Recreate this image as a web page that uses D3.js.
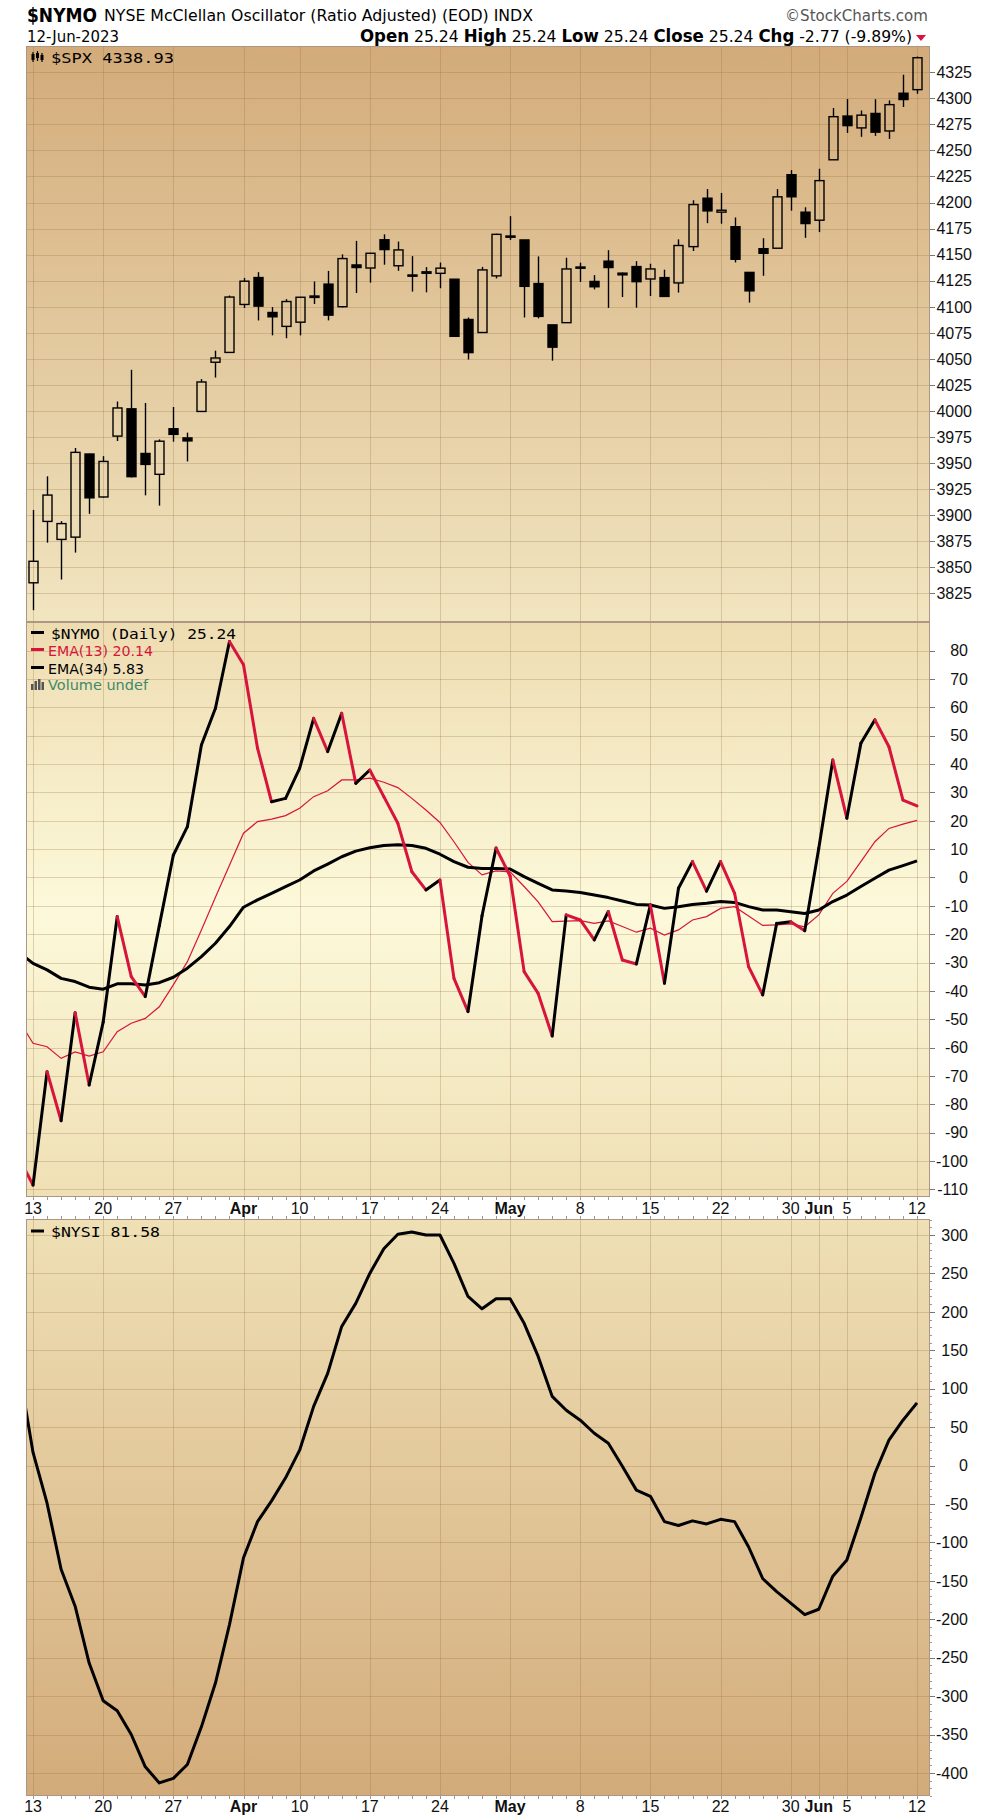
<!DOCTYPE html>
<html>
<head>
<meta charset="utf-8">
<title>$NYMO</title>
<script src="https://cdn.jsdelivr.net/npm/d3@7"></script>
<style>
  html, body { margin: 0; padding: 0; background: #fff; }
  svg { display: block; }
  .axis-label { font-family: "Liberation Sans", Arial, sans-serif; font-size: 16px; fill: #111; }
  .legend-mono { font-family: "DejaVu Sans Mono", monospace; font-size: 14px; }
  .legend-sans { font-family: "DejaVu Sans", Verdana, sans-serif; font-size: 14px; }
  .hdr { font-family: "Liberation Sans Narrow", "DejaVu Sans Condensed", "Liberation Sans", sans-serif; }
</style>
</head>
<body>
<svg id="chart" width="1000" height="1819"></svg>
<script>
// trading days; the first one only feeds the clipped segment at the left edge
const days = [
  "2023-03-10",
  "2023-03-13", "2023-03-14", "2023-03-15", "2023-03-16", "2023-03-17",
  "2023-03-20", "2023-03-21", "2023-03-22", "2023-03-23", "2023-03-24",
  "2023-03-27", "2023-03-28", "2023-03-29", "2023-03-30", "2023-03-31",
  "2023-04-03", "2023-04-04", "2023-04-05", "2023-04-06",
  "2023-04-10", "2023-04-11", "2023-04-12", "2023-04-13", "2023-04-14",
  "2023-04-17", "2023-04-18", "2023-04-19", "2023-04-20", "2023-04-21",
  "2023-04-24", "2023-04-25", "2023-04-26", "2023-04-27", "2023-04-28",
  "2023-05-01", "2023-05-02", "2023-05-03", "2023-05-04", "2023-05-05",
  "2023-05-08", "2023-05-09", "2023-05-10", "2023-05-11", "2023-05-12",
  "2023-05-15", "2023-05-16", "2023-05-17", "2023-05-18", "2023-05-19",
  "2023-05-22", "2023-05-23", "2023-05-24", "2023-05-25", "2023-05-26",
  "2023-05-30", "2023-05-31", "2023-06-01", "2023-06-02",
  "2023-06-05", "2023-06-06", "2023-06-07", "2023-06-08", "2023-06-09",
  "2023-06-12",
];

// $SPX candles, from 2023-03-13
const spxOpen = [
  3835.12, 3894.01, 3876.74, 3878.93, 3958.69, 3917.47, 3975.89, 4002.04, 3959.21, 3939.21,
  3982.93, 3974.13, 3999.53, 4046.74, 4056.18, 4102.2, 4128.03, 4094.5, 4081.15, 4085.2,
  4110.29, 4121.72, 4100.04, 4140.11, 4137.17, 4164.26, 4139.33, 4130.48, 4132.14, 4132.07,
  4126.43, 4087.78, 4075.29, 4129.63, 4166.79, 4164.1, 4122.25, 4082.61, 4084.73, 4136.98,
  4124.25, 4143.74, 4132.24, 4138.54, 4126.65, 4127.95, 4122.85, 4157.68, 4204.15, 4190.78,
  4176.8, 4132.96, 4155.71, 4156.16, 4226.71, 4190.74, 4183.03, 4241.01, 4282.99, 4271.61,
  4285.47, 4268.69, 4304.88, 4308.32,
];
const spxHigh = [
  3905.05, 3937.29, 3894.26, 3964.46, 3958.91, 3956.62, 4009.08, 4039.49, 4007.66, 3972.74,
  4003.83, 3979.2, 4030.59, 4057.85, 4110.75, 4127.66, 4133.13, 4099.69, 4107.32, 4109.5,
  4124.26, 4134.37, 4150.26, 4163.19, 4151.72, 4169.48, 4162.57, 4148.57, 4138.02, 4142.41,
  4126.43, 4089.67, 4138.24, 4170.06, 4186.92, 4164.1, 4148.3, 4082.61, 4147.02, 4142.3,
  4130.35, 4154.28, 4132.8, 4143.74, 4141.25, 4135.54, 4164.67, 4202.2, 4212.91, 4209.22,
  4185.68, 4132.96, 4165.74, 4212.87, 4231.1, 4195.44, 4232.43, 4290.67, 4299.28, 4288.33,
  4299.19, 4298.01, 4322.62, 4340.13,
];
const spxLow = [
  3808.86, 3873.63, 3838.24, 3864.11, 3901.27, 3916.89, 3971.19, 3936.17, 3919.05, 3909.16,
  3970.49, 3951.53, 3999.53, 4032.1, 4056.18, 4098.79, 4086.87, 4072.56, 4069.84, 4072.55,
  4102.61, 4086.94, 4099.4, 4113.2, 4123.18, 4140.36, 4134.49, 4114.57, 4113.86, 4117.77,
  4071.38, 4049.35, 4075.29, 4127.18, 4164.12, 4089.72, 4088.86, 4048.28, 4084.73, 4123.81,
  4116.65, 4098.92, 4109.29, 4099.12, 4110.27, 4109.86, 4113.62, 4153.5, 4180.2, 4179.68,
  4142.54, 4103.98, 4129.73, 4156.16, 4192.18, 4166.15, 4171.64, 4241.01, 4266.82, 4263.09,
  4263.96, 4261.07, 4291.7, 4304.37,
];
const spxClose = [
  3855.76, 3919.29, 3891.93, 3960.28, 3916.64, 3951.57, 4002.87, 3936.97, 3948.72, 3970.99,
  3977.53, 3971.27, 4027.81, 4050.83, 4109.31, 4124.51, 4100.6, 4090.38, 4105.02, 4109.11,
  4108.94, 4091.95, 4146.22, 4137.64, 4151.32, 4154.87, 4154.52, 4129.79, 4133.52, 4137.04,
  4071.63, 4055.99, 4135.35, 4169.48, 4167.87, 4119.58, 4090.75, 4061.22, 4136.25, 4138.12,
  4119.17, 4137.64, 4130.62, 4124.08, 4136.28, 4109.9, 4158.77, 4198.05, 4191.98, 4192.63,
  4145.58, 4115.24, 4151.28, 4205.45, 4205.52, 4179.83, 4221.02, 4282.37, 4273.79, 4283.85,
  4267.52, 4293.93, 4298.86, 4338.93,
];

// $NYMO panel, from 2023-03-10
const nymo = [
  -99, -108.5, -68.5, -85.8, -47.7, -73.2, -51, -13.8, -35, -42,
  -17, 7.9, 17.9, 46.7, 59.7, 83.2, 75, 45.6, 26.7, 27.9,
  38.5, 56.1, 44.4, 57.9, 33.2, 37.9, 28.5, 19.1, 2.0, -4.4,
  -0.9, -35.6, -47.3, -13.5, 10.4, 0.5, -33.2, -40.9, -55.9, -13.2,
  -15, -22, -12, -29.1, -30.5, -9.7, -37.3, -3.8, 5.6, -4.8,
  5.6, -5.6, -31.5, -41.4, -16.2, -15.6, -18.8, 10.3, 41.4, 20.9,
  47.3, 55.6, 46.1, 27.3, 25.24,
];
const ema13 = [
  -50.5, -58.5, -59.7, -63.8, -61.5, -63, -61.5, -54.4, -51.4, -49.7,
  -45.6, -37.9, -29.7, -18.5, -7.0, 4.3, 15.6, 19.7, 20.6, 21.8,
  24.4, 28.5, 30.6, 34.4, 34.4, 35.0, 33.6, 31.7, 27.9, 23.8,
  19.4, 12.6, 5.3, 0.9, 2.3, 2.0, -3.2, -8.6, -15.6, -15.4,
  -15.2, -16.2, -15.3, -17.3, -19.3, -17.9, -20.3, -18.5, -15.0, -13.8,
  -10.9, -10.3, -13.6, -16.9, -16.7, -16.4, -17.4, -13.2, -5.6, -1.4,
  5.6, 12.6, 17.3, 18.8, 20.14,
];
const ema34 = [
  -26.5, -30.3, -32.6, -35.6, -36.7, -38.7, -39.4, -37.5, -37.5, -37.9,
  -37.1, -35.2, -32, -27.9, -23.2, -17.3, -10.5, -7.9, -5.6, -3.2,
  -0.9, 2.3, 4.7, 7.3, 9.3, 10.5, 11.3, 11.5, 11.3, 10.3,
  8.2, 5.6, 3.6, 3.2, 3.2, 3.0, 0.3, -2.1, -4.4, -4.8,
  -5.3, -6.2, -7.1, -8.3, -9.5, -9.7, -10.9, -10.3, -9.5, -9.1,
  -8.5, -8.8, -10.3, -11.5, -11.5, -12.1, -12.7, -11.5, -8.5, -6.2,
  -3.2, -0.3, 2.6, 4.2, 5.83,
];

// $NYSI panel, from 2023-03-10
const nysi = [
  126, 17, -49, -135, -183, -257, -306, -319, -350, -392,
  -413, -407, -389, -340, -283, -207, -120, -73, -46, -16,
  20, 77, 120, 181, 211, 250, 282, 301, 304, 300,
  300, 263, 220, 204, 217, 217, 185, 142, 90, 72,
  59, 42, 29, -1, -32, -40, -73, -78, -72, -76,
  -70, -73, -106, -147, -164, -179, -194, -187, -144, -123,
  -68, -10, 33, 59, 81.58,
];

const tickDays = [
  "2023-03-13", "2023-03-20", "2023-03-27", "2023-04-03", "2023-04-10",
  "2023-04-17", "2023-04-24", "2023-05-01", "2023-05-08", "2023-05-15",
  "2023-05-22", "2023-05-30", "2023-06-01", "2023-06-05", "2023-06-12",
];
const tickLabels = ["13", "20", "27", "Apr", "10", "17", "24", "May", "8", "15", "22", "30", "Jun", "5", "12"];
const spxTicks = d3.range(3825, 4326, 25);
const nymoTicks = d3.range(-110, 81, 10);
const nysiTicks = d3.range(-400, 301, 50);

const red = "#d7143c";
const gridColor = "rgba(150,110,60,0.28)";
const borderColor = "#ad9684";

const plotLeft = 26;
const plotRight = 930;

const x = d3.scalePoint().domain(days).range([plotLeft - 7, plotRight - 13]);
const y1 = d3.scaleLinear().domain([3797.5, 4350.2]).range([622, 46]);
const y2 = d3.scaleLinear().domain([-112.7, 90.1]).range([1197, 622]);
const y3 = d3.scaleLinear().domain([-430, 320.8]).range([1796, 1219]);

const svg = d3.select("#chart");
const defs = svg.append("defs");

function gradient(id, stops) {
  const g = defs.append("linearGradient").attr("id", id)
    .attr("x1", 0).attr("y1", 0).attr("x2", 0).attr("y2", 1);
  stops.forEach(([o, c]) => g.append("stop").attr("offset", o).attr("stop-color", c));
}
gradient("bg-spx", [[0, "#d3ab7a"], [1, "#f1e5c0"]]);
gradient("bg-nymo", [[0, "#eedcb1"], [0.5, "#fcf9da"], [1, "#efdfb4"]]);
gradient("bg-nysi", [[0, "#efe0b6"], [1, "#d3ab7a"]]);

/**
 * Panels
 */
function panel(id, yScale, ticks, labelRight, minorStep) {
  const [bottom, top] = yScale.range();
  const g = svg.append("g").attr("class", `panel panel-${id}`);

  g.append("rect")
    .attr("x", plotLeft).attr("y", top)
    .attr("width", plotRight - plotLeft).attr("height", bottom - top)
    .attr("fill", `url(#bg-${id})`);

  defs.append("clipPath").attr("id", `clip-${id}`)
    .append("rect")
    .attr("x", plotLeft).attr("y", top)
    .attr("width", plotRight - plotLeft).attr("height", bottom - top);

  g.append("g").selectAll("line").data(ticks).join("line")
    .attr("x1", plotLeft).attr("x2", plotRight)
    .attr("y1", (d) => Math.round(yScale(d)) + 0.5)
    .attr("y2", (d) => Math.round(yScale(d)) + 0.5)
    .attr("stroke", gridColor);

  g.append("g").selectAll("line").data(tickDays).join("line")
    .attr("x1", (d) => Math.round(x(d)) + 0.5)
    .attr("x2", (d) => Math.round(x(d)) + 0.5)
    .attr("y1", top).attr("y2", bottom)
    .attr("stroke", gridColor);

  if (minorStep) {
    const minor = d3.range(Math.ceil(yScale.domain()[0] / minorStep) * minorStep, yScale.domain()[1], minorStep);
    g.append("g").selectAll("line").data(minor).join("line")
      .attr("x1", plotRight).attr("x2", plotRight + 2)
      .attr("y1", (d) => Math.round(yScale(d)) + 0.5)
      .attr("y2", (d) => Math.round(yScale(d)) + 0.5)
      .attr("stroke", "#999");
  }

  g.append("g").selectAll("line").data(ticks).join("line")
    .attr("x1", plotRight).attr("x2", plotRight + 5)
    .attr("y1", (d) => Math.round(yScale(d)) + 0.5)
    .attr("y2", (d) => Math.round(yScale(d)) + 0.5)
    .attr("stroke", "#777");

  g.append("g").selectAll("text").data(ticks).join("text")
    .attr("class", "axis-label")
    .attr("x", labelRight)
    .attr("y", (d) => yScale(d))
    .attr("dy", "0.36em")
    .attr("text-anchor", "end")
    .text((d) => d);

  const marks = g.append("g").attr("clip-path", `url(#clip-${id})`);

  g.append("rect")
    .attr("x", plotLeft + 0.5).attr("y", top + 0.5)
    .attr("width", plotRight - plotLeft - 1).attr("height", bottom - top - 1)
    .attr("fill", "none").attr("stroke", borderColor);

  return marks;
}

const spxG = panel("spx", y1, spxTicks, 972);
const nymoG = panel("nymo", y2, nymoTicks, 968);
const nysiG = panel("nysi", y3, nysiTicks, 968, 10);

/**
 * Candles
 */
const candles = spxOpen.map((o, i) => ({
  day: days[i + 1], o, h: spxHigh[i], l: spxLow[i], c: spxClose[i],
}));
const candleG = spxG.selectAll(".candle").data(candles).join("g")
  .attr("class", "candle")
  .attr("transform", (d) => `translate(${Math.round(x(d.day)) + 0.5},0)`);
candleG.append("line")
  .attr("y1", (d) => y1(d.h)).attr("y2", (d) => y1(Math.max(d.o, d.c)))
  .attr("stroke", "#000").attr("stroke-width", 1.4);
candleG.append("line")
  .attr("y1", (d) => y1(Math.min(d.o, d.c))).attr("y2", (d) => y1(d.l))
  .attr("stroke", "#000").attr("stroke-width", 1.4);
candleG.append("rect")
  .attr("x", -4.5).attr("width", 9)
  .attr("y", (d) => y1(Math.max(d.o, d.c)))
  .attr("height", (d) => Math.max(1.2, Math.abs(y1(d.o) - y1(d.c))))
  .attr("fill", (d) => (d.c > d.o ? "none" : "#000"))
  .attr("stroke", "#000").attr("stroke-width", 1.4);

/**
 * NYMO + EMAs
 */
const line2 = d3.line().x((d, i) => x(days[i])).y((d) => y2(d));
nymoG.append("path").attr("d", line2(ema13))
  .attr("fill", "none").attr("stroke", red).attr("stroke-width", 1.2);
nymoG.append("path").attr("d", line2(ema34))
  .attr("fill", "none").attr("stroke", "#000").attr("stroke-width", 3)
  .attr("stroke-linejoin", "round");
nymoG.append("g").selectAll("line").data(d3.pairs(d3.range(nymo.length))).join("line")
  .attr("x1", ([a]) => x(days[a])).attr("y1", ([a]) => y2(nymo[a]))
  .attr("x2", ([, b]) => x(days[b])).attr("y2", ([, b]) => y2(nymo[b]))
  .attr("stroke", ([a, b]) => (nymo[b] >= nymo[a] ? "#000" : red))
  .attr("stroke-width", 3)
  .attr("stroke-linecap", "round");

/**
 * NYSI
 */
const line3 = d3.line().x((d, i) => x(days[i])).y((d) => y3(d));
nysiG.append("path").attr("d", line3(nysi))
  .attr("fill", "none").attr("stroke", "#000").attr("stroke-width", 3)
  .attr("stroke-linejoin", "round");

/**
 * Date axes
 */
function dateAxis(top, bottom, baseline) {
  const g = svg.append("g").attr("class", "date-axis");
  g.append("g").selectAll("line").data(days.slice(1)).join("line")
    .attr("x1", (d) => Math.round(x(d)) + 0.5).attr("x2", (d) => Math.round(x(d)) + 0.5)
    .attr("y1", top).attr("y2", top + 3)
    .attr("stroke", "#999");
  if (bottom) {
    g.append("g").selectAll("line").data(days.slice(1)).join("line")
      .attr("x1", (d) => Math.round(x(d)) + 0.5).attr("x2", (d) => Math.round(x(d)) + 0.5)
      .attr("y1", bottom - 3).attr("y2", bottom)
      .attr("stroke", "#999");
  }
  g.append("g").selectAll("text").data(tickDays).join("text")
    .attr("class", "axis-label")
    .attr("x", (d) => x(d))
    .attr("y", baseline)
    .attr("text-anchor", "middle")
    .attr("font-weight", (d, i) => (isNaN(+tickLabels[i]) ? "bold" : null))
    .text((d, i) => tickLabels[i]);
}
dateAxis(1197, 1219, 1214);
dateAxis(1796, null, 1812);

/**
 * Legends
 */
function dash(y, color) {
  svg.append("line").attr("x1", 31).attr("x2", 44).attr("y1", y).attr("y2", y)
    .attr("stroke", color).attr("stroke-width", 3);
}
function legendText(cls, xPos, y, txt, color, len) {
  const t = svg.append("text").attr("class", cls).attr("x", xPos).attr("y", y)
    .attr("fill", color).text(txt);
  if (len) t.attr("textLength", len).attr("lengthAdjust", "spacingAndGlyphs");
  return t;
}

// candle icon
[[33, 52, 62, 54, 60], [37.5, 51, 61, 53, 58], [42, 53, 62, 55, 60]].forEach(([cx, hi, lo, bt, bb]) => {
  svg.append("line").attr("x1", cx).attr("x2", cx).attr("y1", hi).attr("y2", lo)
    .attr("stroke", "#000").attr("stroke-width", 1.2);
  svg.append("rect").attr("x", cx - 1.5).attr("y", bt).attr("width", 3).attr("height", bb - bt)
    .attr("fill", "#000");
});
legendText("legend-mono", 51, 63, "$SPX 4338.93", "#000", 123);

dash(632.5, "#000");
legendText("legend-mono", 51, 639, "$NYMO (Daily) 25.24", "#000", 185);
dash(649.5, red);
legendText("legend-sans", 48, 656, "EMA(13) 20.14", red, 105);
dash(667.5, "#000");
legendText("legend-sans", 48, 674, "EMA(34) 5.83", "#000", 96);
[[31, 684], [34.5, 681], [38, 679], [41.5, 682]].forEach(([bx, by]) => {
  svg.append("rect").attr("x", bx).attr("y", by).attr("width", 2.5).attr("height", 690 - by).attr("fill", "#555");
});
legendText("legend-sans", 48, 690, "Volume undef", "#3f8a68", 100);

dash(1231, "#000");
legendText("legend-mono", 51, 1237, "$NYSI 81.58", "#000", 109);

/**
 * Header
 */
const hdr = svg.append("g").attr("class", "hdr");
hdr.append("text").attr("x", 27).attr("y", 21.5).attr("font-size", 19).attr("font-weight", "bold")
  .attr("textLength", 70).attr("lengthAdjust", "spacingAndGlyphs").text("$NYMO");
hdr.append("text").attr("x", 104).attr("y", 21).attr("font-size", 15.5)
  .attr("textLength", 429).attr("lengthAdjust", "spacingAndGlyphs")
  .text("NYSE McClellan Oscillator (Ratio Adjusted) (EOD) INDX");
hdr.append("text").attr("x", 928).attr("y", 21).attr("font-size", 15.5).attr("text-anchor", "end")
  .attr("fill", "#555").attr("textLength", 143).attr("lengthAdjust", "spacingAndGlyphs")
  .text("\u00a9StockCharts.com");
hdr.append("text").attr("x", 27).attr("y", 41.5).attr("font-size", 16)
  .attr("textLength", 92).attr("lengthAdjust", "spacingAndGlyphs").text("12-Jun-2023");

const quote = [
  ["Open", true], [" 25.24 ", false], ["High", true], [" 25.24 ", false],
  ["Low", true], [" 25.24 ", false], ["Close", true], [" 25.24 ", false],
  ["Chg", true], [" -2.77 (-9.89%)", false],
];
const qt = hdr.append("text").attr("x", 360).attr("y", 41.5).attr("font-size", 16)
  .attr("textLength", 552).attr("lengthAdjust", "spacingAndGlyphs");
quote.forEach(([s, b]) => qt.append("tspan").attr("font-weight", b ? "bold" : null)
  .attr("font-size", b ? 17 : 16).text(s));
hdr.append("path").attr("d", "M916,35 L926,35 L921,41 Z").attr("fill", red);
</script>
</body>
</html>
